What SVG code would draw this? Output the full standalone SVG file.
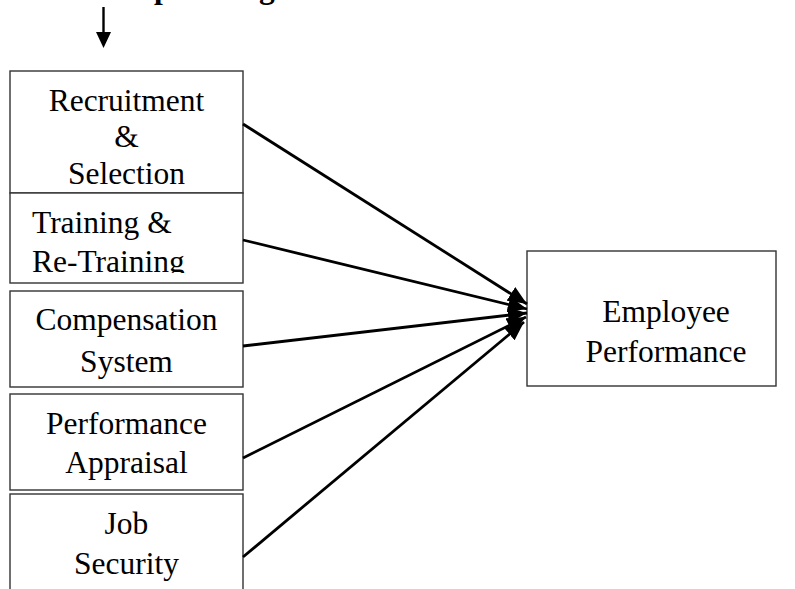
<svg xmlns="http://www.w3.org/2000/svg" width="795" height="589" viewBox="0 0 795 589">
<style>
.box{fill:#fff;stroke:#333;stroke-width:1.4}
.t{font-family:"Liberation Serif","Times New Roman",serif;font-size:31.5px;fill:#000}
.c{text-anchor:middle}
.b{font-weight:bold}
.con{stroke:#000;stroke-width:2.8;fill:none;marker-end:url(#ah)}
</style>
<defs>
<marker id="ah" markerUnits="userSpaceOnUse" markerWidth="20" markerHeight="16" refX="19" refY="8" orient="auto">
<path d="M0,0 L19,8 L0,16 z" fill="#000"/>
</marker>
<clipPath id="clip2"><rect x="10" y="193" width="233" height="80"/></clipPath>
</defs>
<g id="title">
<text class="t b" x="154" y="-2">p</text>
<text class="t b" x="259" y="-2">g</text>
</g>
<g id="top-arrow">
<line x1="103.5" y1="7" x2="103.5" y2="34" stroke="#000" stroke-width="2.4"/>
<polygon points="96,32 111,32 103.5,48" fill="#000"/>
</g>
<g id="recruitment">
<rect class="box" x="10" y="71" width="233" height="122"/>
<text class="t c" x="126.5" y="111">Recruitment</text>
<text class="t c" x="126.5" y="147">&amp;</text>
<text class="t c" x="126.5" y="184">Selection</text>
</g>
<g id="training">
<rect class="box" x="10" y="193" width="233" height="90"/>
<g clip-path="url(#clip2)">
<text class="t" x="32" y="233">Training &amp;</text>
<text class="t" x="32" y="272">Re-Training</text>
</g>
</g>
<g id="compensation">
<rect class="box" x="10" y="291" width="233" height="96"/>
<text class="t c" x="126.5" y="330">Compensation</text>
<text class="t c" x="126.5" y="372">System</text>
</g>
<g id="appraisal">
<rect class="box" x="10" y="394" width="233" height="96"/>
<text class="t c" x="126.5" y="434">Performance</text>
<text class="t c" x="126.5" y="473">Appraisal</text>
</g>
<g id="jobsecurity">
<rect class="box" x="10" y="494" width="233" height="110"/>
<text class="t c" x="126.5" y="534">Job</text>
<text class="t c" x="126.5" y="574">Security</text>
</g>
<g id="employee">
<rect class="box" x="527" y="251" width="249" height="135"/>
<text class="t c" x="666" y="322">Employee</text>
<text class="t c" x="666" y="362">Performance</text>
</g>
<g id="connectors">
<line class="con" x1="243" y1="124" x2="527" y2="304"/>
<line class="con" x1="243" y1="240" x2="527" y2="309"/>
<line class="con" x1="243" y1="346" x2="527" y2="313"/>
<line class="con" x1="243" y1="458" x2="526" y2="317"/>
<line class="con" x1="243" y1="557" x2="524" y2="322"/>
</g>
</svg>
